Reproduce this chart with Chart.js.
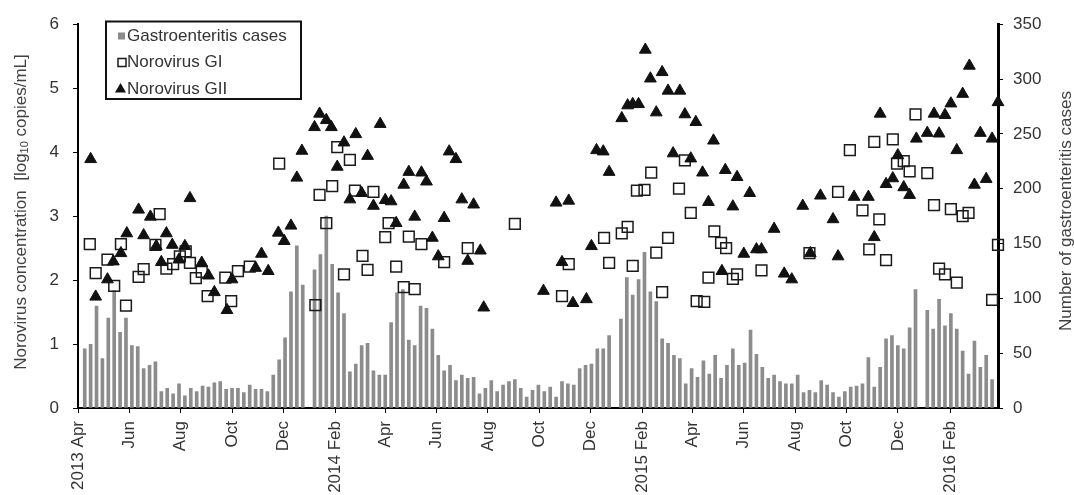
<!DOCTYPE html>
<html><head><meta charset="utf-8">
<script src="https://cdn.jsdelivr.net/npm/chart.js@4.4.1/dist/chart.umd.min.js"></script>
<style>html,body{margin:0;padding:0;background:#fff;}canvas{display:block;}</style>
</head><body>
<canvas id="c" width="1074" height="495"></canvas>
<script>
// ---------- data ----------
const startDate = '2013-04-01';
const tickDates = ['2013-04-01','2013-06-01','2013-08-01','2013-10-01','2013-12-01','2014-02-01',
  '2014-04-01','2014-06-01','2014-08-01','2014-10-01','2014-12-01','2015-02-01',
  '2015-04-01','2015-06-01','2015-08-01','2015-10-01','2015-12-01','2016-02-01'];
const tickLabels = ['2013 Apr','Jun','Aug','Oct','Dec','2014 Feb','Apr','Jun','Aug','Oct','Dec',
  '2015 Feb','Apr','Jun','Aug','Oct','Dec','2016 Feb'];
const axisEndDay = 1093;
const firstWeekDay = 8;
const weeklyCases = [54,58,93,45,82,107,69,82,57,56,
 36,39,42,15,18,13,22,11,18,15,
 20,19,23,24,17,18,18,14,21,17,
 17,15,30,44,64,106,148,112,null,126,
 140,175,131,105,86,33,40,57,59,34,
 30,30,78,105,108,62,57,93,91,72,
 48,34,39,25,30,27,28,13,18,25,
 15,21,24,26,18,10,16,21,15,19,
 10,24,22,21,36,39,40,54,54,66,
 null,81,119,103,117,142,106,97,63,59,
 48,45,22,36,28,43,31,48,27,39,
 54,39,41,71,49,37,27,30,24,22,
 22,30,14,16,14,25,21,14,10,15,
 19,20,22,46,19,37,63,66,57,54,
 73,108,null,89,72,99,75,86,72,52,
 31,61,37,48,26];
const giDay = [14,21,35,43,51,57,72,78,92,97,105,113,121,128,133,140,147,154,175,182,190,204,
 239,282,287,295,302,308,316,323,329,338,344,351,365,369,378,387,393,400,408,435,463,519,
 575,583,625,631,646,653,659,664,673,681,687,694,701,714,721,728,735,744,749,756,764,770,778,783,812,
 869,903,917,932,940,946,952,960,968,973,981,988,995,1009,1017,1023,1030,1037,1044,1051,1058,1086,1093];
const giVal = [2.56,2.11,2.32,1.91,2.56,1.60,2.05,2.17,2.55,3.03,2.18,2.25,2.37,2.45,2.27,2.03,2.13,1.75,2.04,1.67,2.14,2.21,
 3.82,1.61,3.33,2.89,3.47,4.08,2.09,3.88,3.40,2.38,2.16,3.38,2.67,2.89,2.21,1.89,2.68,1.86,2.56,2.28,2.50,2.88,
 1.75,2.25,2.66,2.27,2.73,2.83,2.22,3.40,3.41,3.68,2.43,1.81,2.66,3.43,3.87,3.05,1.67,1.66,2.04,2.76,2.58,2.50,2.02,2.09,2.15,
 2.42,3.38,4.03,3.09,2.48,4.16,2.95,2.31,4.20,3.82,3.86,3.70,4.59,3.67,3.17,2.18,2.09,3.11,1.96,3.00,3.05,1.69,2.55];
const giiDay = [15,21,35,42,51,58,72,78,86,93,99,105,112,120,127,133,147,155,162,177,183,211,218,226,238,245,253,260,266,
 281,287,295,301,308,316,323,330,337,344,351,359,365,372,378,387,393,400,408,414,421,428,435,441,449,456,463,470,478,482,
 553,568,575,583,588,604,610,616,624,631,646,653,659,666,674,680,687,694,701,707,715,721,728,734,742,749,755,765,769,778,783,
 791,798,806,812,827,839,848,861,870,882,897,903,922,939,946,953,960,968,974,981,988,996,1009,1017,1023,1030,1037,1044,1051,
 1059,1065,1072,1079,1086,1093];
const giiVal = [3.89,1.74,2.01,2.29,2.42,2.73,3.10,2.70,2.99,2.53,2.28,2.73,2.55,2.32,2.53,3.28,2.27,2.07,1.81,1.53,2.01,2.19,2.41,2.14,2.74,2.61,2.85,3.60,4.02,
 4.39,4.60,4.50,4.39,3.77,4.15,3.26,4.28,3.36,3.94,3.16,4.44,3.25,3.23,2.89,3.49,3.69,2.99,3.68,3.54,2.66,2.37,2.97,4.01,3.89,3.26,2.30,3.18,2.46,1.57,
 1.83,3.21,2.28,3.24,1.64,1.70,2.53,4.03,4.01,3.69,4.53,4.73,4.75,4.75,5.60,5.15,4.62,5.25,4.96,3.98,4.96,4.59,3.90,4.47,3.68,3.22,4.18,2.14,3.72,3.15,3.61,
 2.41,3.36,2.48,2.48,2.80,2.10,2.01,3.16,2.42,3.32,2.95,2.37,3.30,3.30,2.67,4.60,3.50,3.59,3.95,3.45,3.33,4.21,4.30,4.60,4.29,4.58,4.76,4.03,4.91,
 5.35,3.49,4.30,3.58,4.21,4.78];

// ---------- build ----------
const DAY = 86400000;
const t0 = Date.parse(startDate + 'T00:00:00Z');
const dayOf = s => Math.round((Date.parse(s + 'T00:00:00Z') - t0) / DAY);
const tickDays = tickDates.map(dayOf);
const barData = weeklyCases.map((v, i) => ({x: firstWeekDay + 7 * i, y: v}));
const giData = giDay.map((d, i) => ({x: d, y: giVal[i]}));
const giiData = giiDay.map((d, i) => ({x: d, y: giiVal[i]}));

const FONT = '"Liberation Sans", Arial, Helvetica, sans-serif';
const TXT = '#333333';
const tickFont = {family: FONT, size: 17};

const decor = {
  id: 'decor',
  afterDraw(chart) {
    const ctx = chart.ctx;
    const ds = chart.data.datasets;
    ctx.save();
    // legend
    ctx.lineWidth = 2;
    ctx.strokeStyle = '#111';
    ctx.strokeRect(106, 21.5, 195, 77.5);
    ctx.font = '17px ' + FONT;
    ctx.fillStyle = TXT;
    ctx.textBaseline = 'middle';
    ctx.textAlign = 'left';
    const rows = [36, 62.5, 89];
    ds.forEach((d, k) => {
      const y = rows[k];
      ctx.fillStyle = TXT;
      ctx.fillText(d.label, 127, y);
      if (k === 0) {
        ctx.fillStyle = d.backgroundColor;
        ctx.fillRect(118, y - 3.5, 7, 7);
      } else if (k === 1) {
        ctx.lineWidth = 1.5; ctx.strokeStyle = '#1a1a1a';
        ctx.strokeRect(118, y - 4, 8, 8);
      } else {
        ctx.fillStyle = '#111';
        ctx.beginPath();
        ctx.moveTo(120.5, y - 6); ctx.lineTo(126, y + 3.5); ctx.lineTo(115, y + 3.5);
        ctx.closePath(); ctx.fill();
      }
    });
    // left axis title
    ctx.fillStyle = '#404040';
    ctx.save();
    ctx.translate(21, 212);
    ctx.rotate(-Math.PI / 2);
    const a = 'Norovirus concentration  [log', b = '10', c = ' copies/mL]';
    const f1 = '17px ' + FONT, f2 = '11px ' + FONT;
    ctx.font = f1; const wa = ctx.measureText(a).width, wc = ctx.measureText(c).width;
    ctx.font = f2; const wb = ctx.measureText(b).width;
    const x0 = -(wa + wb + wc) / 2;
    ctx.textAlign = 'left'; ctx.textBaseline = 'middle';
    ctx.font = f1; ctx.fillText(a, x0, 0);
    ctx.font = f2; ctx.fillText(b, x0 + wa, 4);
    ctx.font = f1; ctx.fillText(c, x0 + wa + wb, 0);
    ctx.restore();
    // right axis title
    ctx.save();
    ctx.translate(1066, 211);
    ctx.rotate(-Math.PI / 2);
    ctx.font = '17px ' + FONT;
    ctx.textAlign = 'center'; ctx.textBaseline = 'middle';
    ctx.fillText('Number of gastroenteritis cases', 0, 0);
    ctx.restore();
    ctx.restore();
  }
};

new Chart(document.getElementById('c'), {
  type: 'bar',
  data: {
    datasets: [
      {type: 'bar', label: 'Gastroenteritis cases', data: barData, xAxisID: 'x', yAxisID: 'y1',
       backgroundColor: '#8c8c8c', barThickness: 3, order: 3},
      {type: 'scatter', label: 'Norovirus GI', data: giData, xAxisID: 'x', yAxisID: 'y',
       pointStyle: 'rect', pointRadius: 7.6, pointBorderWidth: 1.5,
       borderColor: '#1a1a1a', pointBorderColor: '#1a1a1a',
       backgroundColor: 'rgba(0,0,0,0)', pointBackgroundColor: 'rgba(0,0,0,0)', clip: false, order: 2},
      {type: 'scatter', label: 'Norovirus GII', data: giiData, xAxisID: 'x', yAxisID: 'y',
       pointStyle: 'triangle', pointRadius: 6.8, pointBorderWidth: 1,
       borderColor: '#111', pointBorderColor: '#111',
       backgroundColor: '#111', pointBackgroundColor: '#111', clip: false, order: 1}
    ]
  },
  options: {
    responsive: false,
    animation: false,
    events: [],
    layout: {padding: {top: 22, bottom: 0, left: 0, right: 0}},
    plugins: {legend: {display: false}, tooltip: {enabled: false}},
    scales: {
      x: {
        type: 'linear', min: 0, max: axisEndDay, offset: false,
        afterBuildTicks: s => { s.ticks = tickDays.map(v => ({value: v})); },
        afterFit: s => { s.height = 87; },
        ticks: {autoSkip: false, minRotation: 90, maxRotation: 90, padding: 8, font: tickFont, color: TXT,
          callback: (v, i) => tickLabels[i]},
        grid: {display: true, drawOnChartArea: false, drawTicks: true, tickLength: 5, color: '#000', offset: false},
        border: {display: true, color: '#000', width: 2}
      },
      y: {
        position: 'left', min: 0, max: 6,
        afterFit: s => { s.width = 78; },
        ticks: {stepSize: 1, padding: 14, font: tickFont, color: TXT},
        grid: {display: true, drawOnChartArea: false, tickLength: 5, color: '#000'},
        border: {display: true, color: '#000', width: 2}
      },
      y1: {
        position: 'right', min: 0, max: 350,
        afterFit: s => { s.width = 76; },
        ticks: {stepSize: 50, padding: 10, font: tickFont, color: TXT},
        grid: {display: true, drawOnChartArea: false, tickLength: 5, color: '#000'},
        border: {display: true, color: '#000', width: 3}
      }
    }
  },
  plugins: [decor]
});
</script>
</body></html>
